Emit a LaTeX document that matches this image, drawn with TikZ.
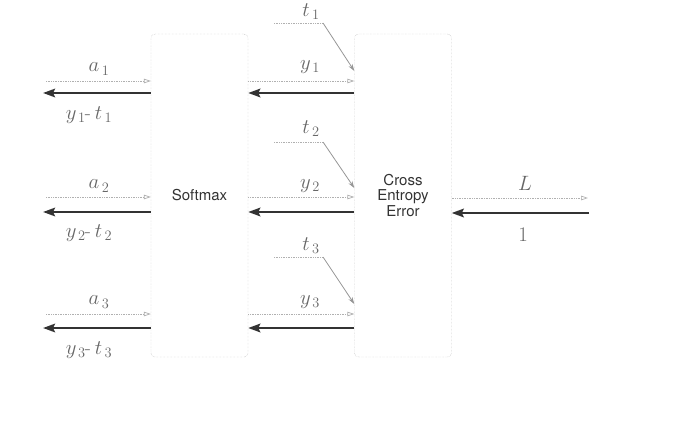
\documentclass[tikz,border=0pt]{standalone}
\usepackage{fontspec}
\newfontfamily\boxfont{TeX Gyre Heros}
\usetikzlibrary{arrows.meta}
\definecolor{lblgray}{HTML}{666666}
\definecolor{fwdgray}{HTML}{B0B0B0}
\definecolor{bwdgray}{HTML}{333333}
\definecolor{boxgray}{HTML}{A8A8A8}
\tikzset{
  layerbox/.style={draw=boxgray, densely dotted, rounded corners=4pt, minimum width=97pt, minimum height=323pt, inner sep=0pt, align=center, font=\boxfont\fontsize{15}{15.5}\selectfont, text=black!80},
  fwd/.style={draw=fwdgray, line width=0.7pt, densely dotted, -{Triangle[open, length=7pt, width=4.5pt, fill=white]}},
  bwd/.style={draw=bwdgray, line width=2.8pt, -{Stealth[length=12pt, width=8.5pt, inset=2pt]}},
  lbl/.style={text=lblgray, font=\fontsize{20}{22}\selectfont, inner sep=0pt},
}
\begin{document}
\begin{tikzpicture}[x=1pt, y=-1pt]
\useasboundingbox (0,0) rectangle (674,438);
\node[layerbox] (sm) at (199.5,195.5) {Softmax};
\node[layerbox] (ce) at (403,195.5) {Cross\\Entropy\\Error};
\foreach \i/\yf/\yb in {1/81/93, 2/197/212, 3/314/328} {
  \coordinate (la\i) at (46,\yf);
  \coordinate (lb\i) at (43,\yb);
  \coordinate (smf\i) at (sm.west |- 0,\yf);
  \coordinate (smb\i) at (sm.west |- 0,\yb);
  \coordinate (sme\i) at (sm.east |- 0,\yf);
  \coordinate (smeb\i) at (sm.east |- 0,\yb);
  \coordinate (cef\i) at (ce.west |- 0,\yf);
  \coordinate (ceb\i) at (ce.west |- 0,\yb);
  \draw[fwd] (la\i) -- (smf\i);
  \draw[bwd] (smb\i) -- (lb\i);
  \draw[fwd] (sme\i) -- (cef\i);
  \draw[bwd] (ceb\i) -- (smeb\i);
}
\node[lbl] (a1) at (99,69) {$a_{\,1}$};
\node[lbl] (a2) at (99,186) {$a_{\,2}$};
\node[lbl] (a3) at (99,302) {$a_{\,3}$};
\node[lbl] (d1) at (89,115) {$y_{\,1}$\kern-1pt-\kern4pt$t_{\,1}$};
\node[lbl] (d2) at (89,233) {$y_{\,2}$\kern-1pt-\kern4pt$t_{\,2}$};
\node[lbl] (d3) at (89,350) {$y_{\,3}$\kern-1pt-\kern4pt$t_{\,3}$};
\node[lbl] (y1) at (310,67) {$y_{\,1}$};
\node[lbl] (y2) at (310,186) {$y_{\,2}$};
\node[lbl] (y3) at (310,302) {$y_{\,3}$};
\foreach \i/\yt/\ye in {1/23/71, 2/142/188, 3/257/304} {
  \coordinate (ts\i) at (274,\yt);
  \coordinate (tk\i) at (323,\yt);
  \coordinate (te\i) at (ce.west |- 0,\ye);
  \draw[draw=fwdgray, line width=0.7pt, densely dotted] (ts\i) -- (tk\i);
  \draw[draw=fwdgray!85!black, line width=0.8pt, -{Stealth[length=7pt, width=4.5pt]}] (tk\i) -- (te\i);
}
\node[lbl] (t1) at (311,12) {$t_{\,1}$};
\node[lbl] (t2) at (311,129) {$t_{\,2}$};
\node[lbl] (t3) at (311,246) {$t_{\,3}$};
\coordinate (lf) at (588,198);
\coordinate (lbk) at (589,213);
\coordinate (cer1) at (ce.east |- 0,198);
\coordinate (cer2) at (ce.east |- 0,213);
\draw[fwd] (cer1) -- (lf);
\draw[bwd] (lbk) -- (cer2);
\node[lbl] (L) at (525,183) {$L$};
\node[lbl] (one) at (523,235) {$1$};
\end{tikzpicture}
\end{document}
